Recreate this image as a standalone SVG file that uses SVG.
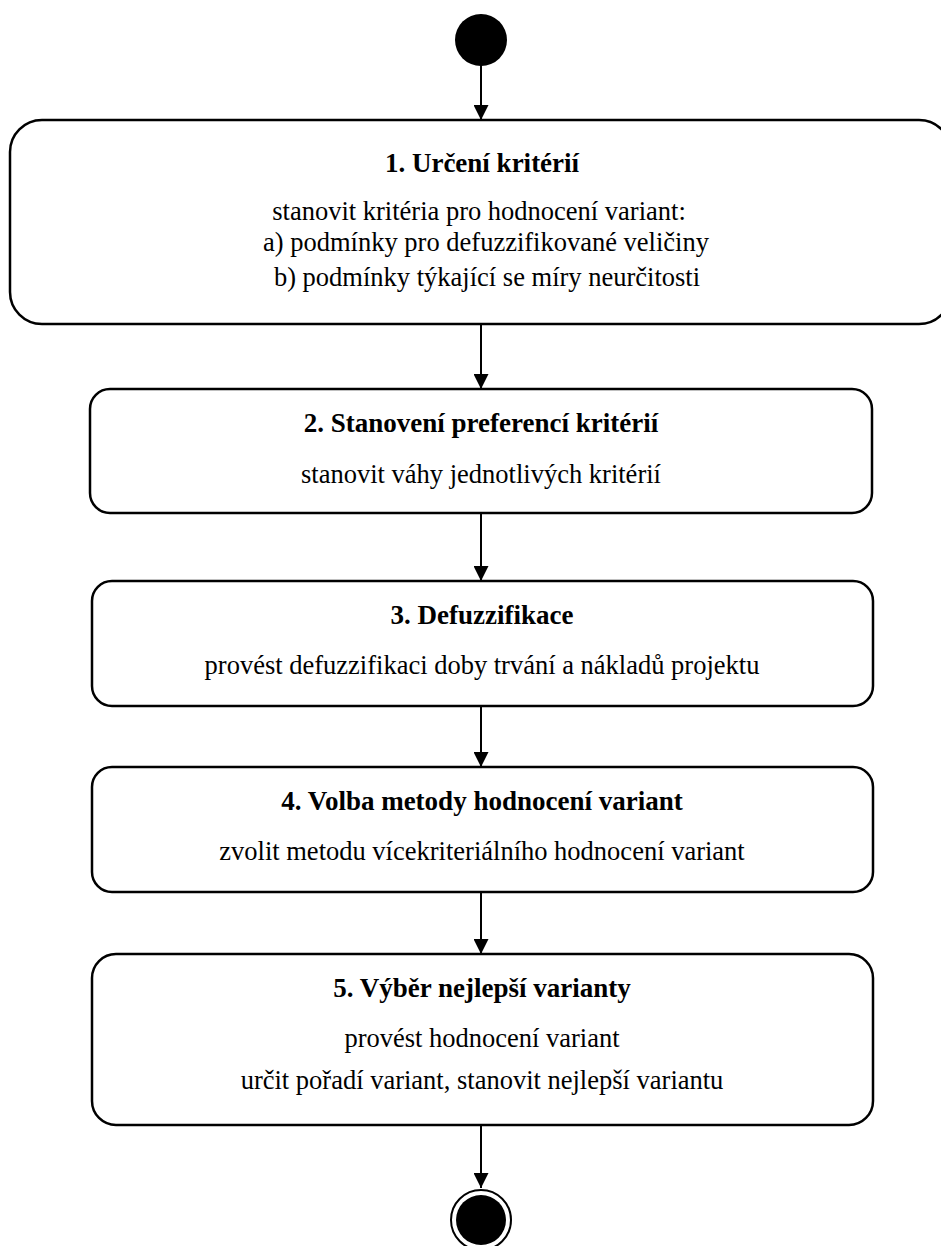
<svg xmlns="http://www.w3.org/2000/svg" width="941" height="1246" viewBox="0 0 941 1246">
  <style>
    .box { fill: #ffffff; stroke: #000000; stroke-width: 2.5; }
    .edge { stroke: #000000; stroke-width: 2; fill: none; }
    .title { font-family: "Liberation Serif", "Times New Roman", serif; font-size: 27px; font-weight: bold; text-anchor: middle; fill: #000; }
    .body { font-family: "Liberation Serif", "Times New Roman", serif; font-size: 26.5px; text-anchor: middle; fill: #000; }
  </style>
  <defs>
    <marker id="arrow" markerWidth="16" markerHeight="15" refX="15" refY="7.5" orient="auto" markerUnits="userSpaceOnUse">
      <path d="M0,0 L15,7.5 L0,15 Z" fill="#000"/>
    </marker>
  </defs>
  <rect width="941" height="1246" fill="#ffffff"/>

  <!-- connectors -->
  <g id="connectors">
    <line class="edge" x1="481" y1="64" x2="481" y2="120" marker-end="url(#arrow)"/>
    <line class="edge" x1="481" y1="324" x2="481" y2="389" marker-end="url(#arrow)"/>
    <line class="edge" x1="481" y1="513" x2="481" y2="581" marker-end="url(#arrow)"/>
    <line class="edge" x1="481" y1="706" x2="481" y2="767" marker-end="url(#arrow)"/>
    <line class="edge" x1="481" y1="892" x2="481" y2="954" marker-end="url(#arrow)"/>
    <line class="edge" x1="481" y1="1125" x2="481" y2="1188" marker-end="url(#arrow)"/>
  </g>

  <!-- start node -->
  <g id="start">
    <circle cx="481" cy="40" r="26" fill="#000"/>
  </g>

  <g id="step1">
    <rect class="box" x="10" y="120" width="941" height="204" rx="32" ry="32"/>
    <text class="title" x="482" y="172">1. Určení kritérií</text>
    <text class="body" x="479" y="220">stanovit kritéria pro hodnocení variant:</text>
    <text class="body" x="486" y="251">a) podmínky pro defuzzifikované veličiny</text>
    <text class="body" x="487" y="286">b) podmínky týkající se míry neurčitosti</text>
  </g>

  <g id="step2">
    <rect class="box" x="90" y="389" width="782" height="124" rx="20" ry="20"/>
    <text class="title" x="481" y="432">2. Stanovení preferencí kritérií</text>
    <text class="body" x="481" y="483">stanovit váhy jednotlivých kritérií</text>
  </g>

  <g id="step3">
    <rect class="box" x="92" y="581" width="781" height="125" rx="20" ry="20"/>
    <text class="title" x="482" y="624">3. Defuzzifikace</text>
    <text class="body" x="482" y="674">provést defuzzifikaci doby trvání a nákladů projektu</text>
  </g>

  <g id="step4">
    <rect class="box" x="92" y="767" width="781" height="125" rx="20" ry="20"/>
    <text class="title" x="482" y="810">4. Volba metody hodnocení variant</text>
    <text class="body" x="482" y="860">zvolit metodu vícekriteriálního hodnocení variant</text>
  </g>

  <g id="step5">
    <rect class="box" x="92" y="954" width="781" height="171" rx="24" ry="24"/>
    <text class="title" x="482" y="997">5. Výběr nejlepší varianty</text>
    <text class="body" x="482" y="1047">provést hodnocení variant</text>
    <text class="body" x="482" y="1089">určit pořadí variant, stanovit nejlepší variantu</text>
  </g>

  <!-- final node -->
  <g id="end">
    <circle cx="481" cy="1220" r="30" fill="#fff" stroke="#000" stroke-width="2"/>
    <circle cx="481" cy="1220" r="25" fill="#000"/>
  </g>
</svg>
